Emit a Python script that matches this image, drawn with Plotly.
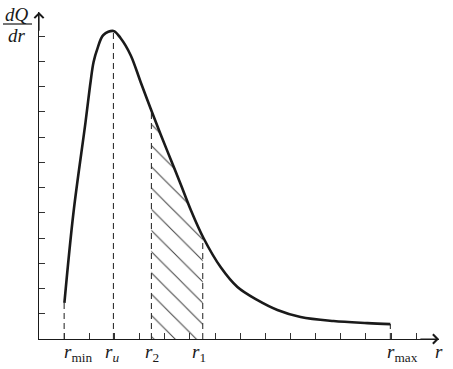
import numpy as np
import plotly.graph_objects as go

# ---- data (axis units = tick spacing) ----
r_curve = [1.01, 1.37, 1.85, 2.05, 2.17, 2.33, 2.56, 2.96, 3.24, 3.64, 4.04, 4.43,
           4.83, 5.23, 5.63, 6.02, 6.54, 7.22, 7.89, 8.69, 9.48, 10.40, 11.71,
           13.06, 13.97]
dq_curve = [1.43, 5.00, 8.59, 10.18, 10.97, 11.52, 12.04, 12.20, 11.92, 11.25, 10.18,
            9.15, 8.12, 7.13, 6.14, 5.15, 4.00, 2.85, 2.06, 1.54, 1.15, 0.87,
            0.71, 0.63, 0.59]

mark_r = [1.00, 2.96, 4.47, 6.51, 13.97]          # r_min, r_u, r_2, r_1, r_max
mark_labels = ["<i>r</i><sub>min</sub>", "<i>r</i><sub><i>u</i></sub>",
               "<i>r</i><sub>2</sub>", "<i>r</i><sub>1</sub>", "<i>r</i><sub>max</sub>"]
hatch_from, hatch_to = 4.47, 6.51                  # r_2 .. r_1
x_ticks = list(range(1, 16))
y_ticks = list(range(1, 13))
y_title = ["<i>dQ</i>", "<i>dr</i>"]
x_title = "<i>r</i>"

# ---- layout geometry (pixels) ----
W, H = 453, 369
ML, MR, MT, MB = 39, 14, 12, 30
PW, PH = W - ML - MR, H - MT - MB
XU, YU = 25.15, 25.25
xmax, ymax = PW / XU, PH / YU

def px_paper(px, py):
    return (px - ML) / PW, (H - MB - py) / PH

INK = "#1a1a1a"
FONT = "Liberation Serif"

fig = go.Figure()

# hatched area between r2 and r1
hx = [hatch_from] + [r for r in r_curve if hatch_from < r < hatch_to] + [hatch_to]
hy = list(np.interp(hx, r_curve, dq_curve))
fig.add_trace(go.Scatter(
    x=hx, y=hy, mode="lines", line=dict(width=0, shape="spline"),
    fill="tozeroy", fillcolor="rgba(0,0,0,0)",
    fillpattern=dict(shape="\\", size=15, solidity=0.07, fgcolor="#444",
                     bgcolor="rgba(0,0,0,0)", fillmode="replace"),
    hoverinfo="skip", showlegend=False))

# dashed vertical guides
for r in mark_r:
    top = float(np.interp(r, r_curve, dq_curve))
    fig.add_trace(go.Scatter(
        x=[r, r], y=[0, top], mode="lines",
        line=dict(color="#333", width=1.1, dash="6px,4px"),
        hoverinfo="skip", showlegend=False))

# main curve
fig.add_trace(go.Scatter(
    x=r_curve, y=dq_curve, mode="lines",
    line=dict(color=INK, width=2.6, shape="spline", smoothing=1.0),
    hoverinfo="skip", showlegend=False))

axis_common = dict(showgrid=False, zeroline=False, showline=True, linecolor=INK,
                   linewidth=1.4, ticks="inside", ticklen=6, tickwidth=1,
                   tickcolor="#333", showticklabels=False, fixedrange=True)
fig.update_xaxes(range=[0, xmax], tickvals=x_ticks, **axis_common)
fig.update_yaxes(range=[0, ymax], tickvals=y_ticks, **axis_common)

annotations = []
# axis arrowheads
annotations.append(dict(x=xmax, y=0, ax=xmax - 0.8, ay=0, xref="x", yref="y",
                        axref="x", ayref="y", text="", showarrow=True,
                        arrowhead=4, arrowsize=1.5, arrowwidth=1.2, arrowcolor=INK))
annotations.append(dict(x=0, y=ymax, ax=0, ay=ymax - 0.8, xref="x", yref="y",
                        axref="x", ayref="y", text="", showarrow=True,
                        arrowhead=4, arrowsize=1.5, arrowwidth=1.2, arrowcolor=INK))

# labels under the axis
label_pos = [(62, "left"), (112, "center"), (152, "center"), (199, "center"), (385, "left")]
for (px, anchor), lab in zip(label_pos, mark_labels):
    xp, yp = px_paper(px, 353)
    annotations.append(dict(x=xp, y=yp, xref="paper", yref="paper", text=lab,
                            showarrow=False, xanchor=anchor, yanchor="middle",
                            font=dict(family=FONT, size=19, color=INK)))
xp, yp = px_paper(433, 351)
annotations.append(dict(x=xp, y=yp, xref="paper", yref="paper", text=x_title,
                        showarrow=False, xanchor="left", yanchor="middle",
                        font=dict(family=FONT, size=19, color=INK)))

# dQ/dr fraction
for txt, py in zip(y_title, (14, 35)):
    xp, yp = px_paper(17, py)
    annotations.append(dict(x=xp, y=yp, xref="paper", yref="paper", text=txt,
                            showarrow=False, xanchor="center", yanchor="middle",
                            font=dict(family=FONT, size=19, color=INK)))
x0, y0 = px_paper(3, 24)
x1, _ = px_paper(32, 24)
shapes = [dict(type="line", xref="paper", yref="paper", x0=x0, x1=x1, y0=y0, y1=y0,
               line=dict(color=INK, width=1.2))]

fig.update_layout(
    width=W, height=H, margin=dict(l=ML, r=MR, t=MT, b=MB),
    paper_bgcolor="white", plot_bgcolor="white",
    annotations=annotations, shapes=shapes, showlegend=False)

fig.write_html("out.html", config={"displayModeBar": False, "staticPlot": True},
               post_script="document.body.style.margin='0';document.body.style.padding='0';"
                           "document.body.style.overflow='hidden';")
